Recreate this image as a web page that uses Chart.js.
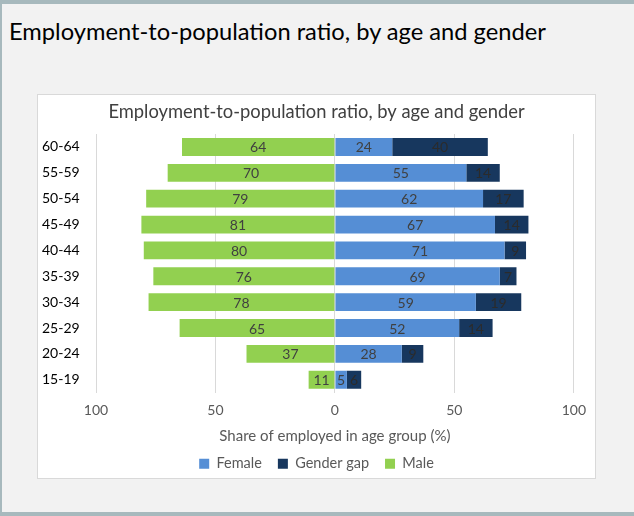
<!DOCTYPE html>
<html>
<head>
<meta charset="utf-8">
<script src="https://cdn.jsdelivr.net/npm/chart.js@4"></script>
<style>
  html, body { margin: 0; padding: 0; background: #f2f2f2; }
  #frame {
    position: relative; width: 632px; height: 508px;
    border-top: 4px solid #a7b9bd; border-left: 2px solid #a7b9bd; border-bottom: 4px solid #a7b9bd;
    background: #f2f2f2; overflow: hidden;
  }
  #heading {
    position: absolute; left: 7px; top: 13px; margin: 0;
    font: normal 23.7px Lato, sans-serif; color: #000; white-space: nowrap;
  }
  #box {
    position: absolute; left: 35px; top: 90px; width: 557px; height: 383px;
    background: #fff; border: 1px solid #d9d9d9;
  }
</style>
</head>
<body>
<div id="frame">
  <h1 id="heading">Employment-to-population ratio, by age and gender</h1>
  <div id="box"><canvas id="chart" width="557" height="383"></canvas></div>
</div>
<script>
const ageGroups = ['60-64', '55-59', '50-54', '45-49', '40-44', '35-39', '30-34', '25-29', '20-24', '15-19'];
const female = [24, 55, 62, 67, 71, 69, 59, 52, 28, 5];
const genderGap = [40, 14, 17, 14, 9, 7, 19, 14, 9, 6];
const male = [64, 70, 79, 81, 80, 76, 78, 65, 37, 11];
const xTicks = [-100, -50, 0, 50, 100];

// draws the value in the middle of each bar
const barLabels = {
  id: 'barLabels',
  afterDatasetsDraw(chart) {
    const ctx = chart.ctx;
    ctx.save();
    ctx.font = '14px Lato, sans-serif';
    ctx.textAlign = 'center';
    ctx.textBaseline = 'middle';
    chart.data.datasets.forEach((ds, i) => {
      const meta = chart.getDatasetMeta(i);
      meta.data.forEach((bar, j) => {
        const p = bar.getProps(['x', 'y', 'base'], true);
        ctx.fillStyle = ds.labelColor;
        ctx.fillText(Math.abs(ds.data[j]), (p.x + p.base) / 2, p.y + 1);
      });
    });
    ctx.restore();
  }
};

new Chart(document.getElementById('chart'), {
  type: 'bar',
  data: {
    labels: ageGroups,
    datasets: [
      { label: 'Female', data: female, backgroundColor: '#558ed5', labelColor: '#404040' },
      { label: 'Gender gap', data: genderGap, backgroundColor: '#17375e', labelColor: '#2b2b2b' },
      { label: 'Male', data: male.map(v => -v), backgroundColor: '#92d050', labelColor: '#404040' }
    ]
  },
  options: {
    indexAxis: 'y',
    responsive: false,
    animation: false,
    datasets: { bar: { barPercentage: 0.69, categoryPercentage: 1, borderWidth: 0 } },
    layout: { padding: { top: 6, left: 4, right: 4, bottom: -3 } },
    scales: {
      x: {
        stacked: true,
        min: -100, max: 100,
        afterBuildTicks: s => { s.ticks = xTicks.map(v => ({ value: v })); },
        ticks: {
          callback: v => Math.abs(v),
          color: '#595959', font: { size: 14, family: 'Lato' }, padding: 9
        },
        grid: { color: '#d9d9d9', drawTicks: false },
        border: { display: false },
        title: {
          display: true, text: 'Share of employed in age group (%)',
          color: '#595959', font: { size: 15, family: 'Lato' }, padding: { top: 0, bottom: -5 }
        }
      },
      y: {
        stacked: true,
        afterFit: s => { s.width = 54; },
        ticks: { color: '#000', font: { size: 14, family: 'Lato' }, padding: 18, crossAlign: 'far' },
        grid: { display: false },
        border: { display: false }
      },
      // empty strip on the right so the plot ends where the reference does
      yRight: {
        type: 'linear',
        position: 'right',
        afterFit: s => { s.width = 16; },
        ticks: { display: false },
        grid: { display: false },
        border: { display: false }
      }
    },
    plugins: {
      title: {
        display: true, text: 'Employment-to-population ratio, by age and gender',
        color: '#404040', font: { size: 18.35, family: 'Lato', weight: 'normal' },
        padding: { top: 0, bottom: 11 }
      },
      legend: {
        position: 'bottom',
        labels: { boxWidth: 10, boxHeight: 10, color: '#595959', font: { size: 14.5, family: 'Lato' }, padding: 16 }
      },
      tooltip: { enabled: false }
    }
  },
  plugins: [barLabels]
});
</script>
</body>
</html>
